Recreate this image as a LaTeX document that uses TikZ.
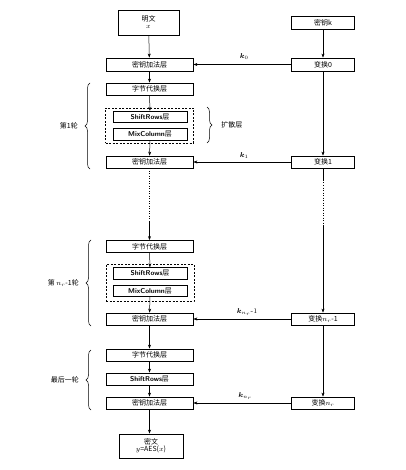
\documentclass[tikz,border=0pt]{standalone}
\usepackage{amsmath}
\usepackage{bm}
\usepackage{fontspec}
\newfontfamily\cjk{Noto Sans CJK SC}
\usetikzlibrary{decorations.pathreplacing,arrows.meta}
\begin{document}
\begin{tikzpicture}[x=1pt,y=-1pt,
  every node/.style={inner sep=0pt,font=\cjk\fontsize{7}{8}\selectfont},
  box/.style={draw,line width=0.8pt,minimum width=87pt,minimum height=12pt},
  rbox/.style={draw,line width=0.8pt,minimum width=63pt,minimum height=12pt},
  ibox/.style={draw,line width=0.8pt,minimum width=74pt,minimum height=11.5pt},
  dbox/.style={draw,dash pattern=on 2pt off 1.5pt,line width=0.6pt,minimum width=88pt},
  arr/.style={-{Stealth[length=4pt,width=3pt]},line width=0.5pt},
  ln/.style={line width=0.5pt},
  brc/.style={decorate,decoration={brace,amplitude=5pt},line width=0.5pt},
  lbl/.style={font=\cjk\fontsize{7}{8}\selectfont},
  kl/.style={font=\fontsize{7}{8}\selectfont}]
\path[use as bounding box] (0,0) rectangle (405,470);
% top
\node[draw,line width=0.8pt,minimum width=61pt,minimum height=25pt,align=center] (pt) at (148.5,22.5) {明文\\[-1pt]$x$};
\node[rbox,minimum height=13pt] (key) at (323,22.5) {密钥k};
\node[box,minimum height=13pt] (ak0) at (149.5,64.5) {密钥加法层};
\node[rbox,minimum height=13pt] (t0) at (323,64.5) {变换0};
% round 1
\node[box] (sb1) at (149.5,89) {字节代换层};
\node[dbox,minimum height=35pt] (d1) at (149.5,125.5) {};
\node[ibox] (sr1) at (150,117) {{\sffamily\bfseries ShiftRows}层};
\node[ibox] (mc1) at (150,134.5) {{\sffamily\bfseries MixColumn}层};
\node[box] (ak1) at (149.5,162) {密钥加法层};
\node[rbox] (t1) at (323,162) {变换1};
% round n_r-1
\node[box] (sb2) at (149.5,246.5) {字节代换层};
\node[dbox,minimum height=37pt] (d2) at (150,282.5) {};
\node[ibox] (sr2) at (150,273.5) {{\sffamily\bfseries ShiftRows}层};
\node[ibox] (mc2) at (150,291) {{\sffamily\bfseries MixColumn}层};
\node[box] (ak2) at (149.5,319) {密钥加法层};
\node[rbox] (tn1) at (323,319) {变换$n_r$-1};
% last round
\node[box] (sb3) at (149.5,355) {字节代换层};
\node[box] (sr3) at (149.5,379) {{\sffamily\bfseries ShiftRows}层};
\node[box] (ak3) at (149.5,403) {密钥加法层};
\node[rbox] (tn) at (323,403) {变换$n_r$};
\node[draw,line width=0.8pt,minimum width=64pt,minimum height=24pt,align=center] (ct) at (151,446) {密文\\[-1pt]$y$=AES($x$)};
% left column arrows
\draw[arr] (pt) -- (ak0);
\draw[arr] (ak0) -- (sb1);
\draw[arr] (sb1) -- (sr1);
\draw[arr] (mc1) -- (ak1);
\coordinate (l1) at (ak1.south |- 0,222);
\draw[ln,dotted] (ak1.south) -- (l1);
\draw[arr] (l1) -- (sb2);
\draw[arr] (sb2) -- (sr2);
\draw[arr] (mc2) -- (ak2);
\draw[arr] (ak2) -- (sb3);
\draw[arr] (sb3) -- (sr3);
\draw[arr] (sr3) -- (ak3);
\draw[arr] (ak3.south) -- (ak3.south |- ct.north);
% right column
\draw[arr] (key) -- (t0);
\draw[arr] (t0) -- (t1);
\coordinate (r1) at (t1.south |- 0,180);
\coordinate (r2) at (t1.south |- 0,225);
\draw[ln] (t1.south) -- (r1);
\draw[ln,dotted] (r1) -- (r2);
\draw[arr] (r2) -- (tn1);
\draw[arr] (tn1) -- (tn);
% key arrows
\draw[arr] (t0) -- node[kl,above=5pt,pos=0.48] {$\bm{k}_0$} (ak0);
\draw[arr] (t1) -- node[kl,above=3pt,pos=0.48] {$\bm{k}_1$} (ak1);
\draw[arr] (tn1) -- node[kl,above=3pt,pos=0.45] {$\bm{k}_{n_r}$-1} (ak2);
\draw[arr] (tn) -- node[kl,above=3pt,pos=0.47] {$\bm{k}_{n_r}$} (ak3);
% braces
\draw[brc] (90,169) -- (90,83) node[lbl,midway,left=12pt] (b1) {第1轮};
\draw[brc] (207,107) -- (207,143) node[lbl,midway,right=14pt] (b2) {扩散层};
\draw[brc] (91,326) -- (91,240) node[lbl,midway,left=12pt] (b3) {第 $n_r$-1轮};
\draw[brc] (91,410) -- (91,350) node[lbl,midway,left=12pt] (b4) {最后一轮};
\end{tikzpicture}
\end{document}
